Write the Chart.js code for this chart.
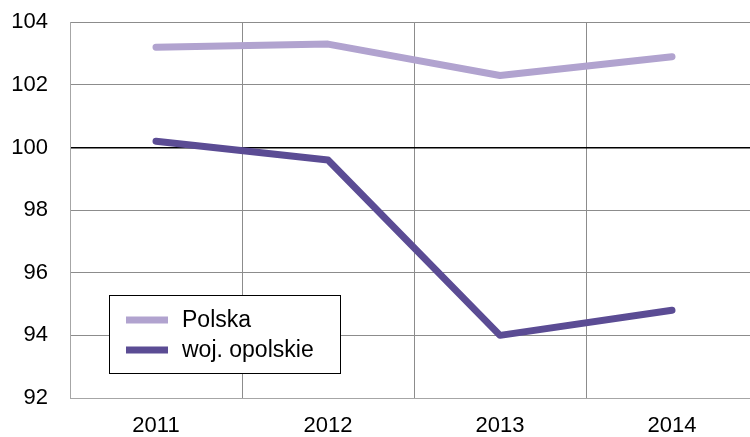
<!DOCTYPE html>
<html>
<head>
<meta charset="utf-8">
<script src="https://cdn.jsdelivr.net/npm/chart.js@4/dist/chart.umd.min.js"></script>
<style>
  html, body { margin: 0; padding: 0; background: #fff; overflow: hidden; }
  #wrap { width: 760px; height: 450px; margin-top: -13px; }
</style>
</head>
<body>
<div id="wrap"><canvas id="myChart" width="760" height="450"></canvas></div>
<script>
// data
const years = ['2011', '2012', '2013', '2014'];
const polska = [103.2, 103.3, 102.3, 102.9];
const opolskie = [100.2, 99.6, 94.0, 94.8];
const yTicks = [92, 94, 96, 98, 100, 102, 104];

const FONT = "'Liberation Sans', Arial, sans-serif";

// legend box drawn inside the plot, bottom left (page offset 13px up)
const boxLegend = {
    id: 'boxLegend',
    afterDraw(chart) {
        const c = chart.ctx;
        const x = 109, y = 295 + 13, w = 231, h = 78;
        c.save();
        c.fillStyle = '#fff';
        c.fillRect(x, y, w, h);
        c.strokeStyle = '#000';
        c.lineWidth = 1;
        c.strokeRect(x + 0.5, y + 0.5, w, h);
        c.font = '23px ' + FONT;
        c.textBaseline = 'middle';
        chart.data.datasets.forEach((ds, i) => {
            const ly = y + 25 + i * 30;
            c.strokeStyle = ds.borderColor;
            c.lineWidth = 7;
            c.beginPath();
            c.moveTo(126, ly);
            c.lineTo(168, ly);
            c.stroke();
            c.fillStyle = '#000';
            c.fillText(ds.label, 182, ly + 1);
        });
        c.restore();
    }
};

const ctx = document.getElementById('myChart').getContext('2d');

const myChart = new Chart(ctx, {
    type: 'line',
    data: {
        labels: years,
        datasets: [{
            label: 'Polska',
            data: polska,
            borderColor: '#b1a3cf',
            backgroundColor: '#b1a3cf',
            borderWidth: 7,
            pointRadius: 0,
            tension: 0,
            borderCapStyle: 'round',
            borderJoinStyle: 'round'
        }, {
            label: 'woj. opolskie',
            data: opolskie,
            borderColor: '#5b4c94',
            backgroundColor: '#5b4c94',
            borderWidth: 7,
            pointRadius: 0,
            tension: 0,
            borderCapStyle: 'round',
            borderJoinStyle: 'round'
        }]
    },
    options: {
        responsive: false,
        animation: false,
        layout: { padding: { top: 10, right: 2 } },
        plugins: {
            legend: { display: false },
            tooltip: { enabled: false }
        },
        scales: {
            x: {
                offset: true,
                grid: { offset: true, color: '#8c8c8c', drawTicks: false },
                border: { color: '#a6a6a6' },
                ticks: { color: '#000', font: { family: FONT, size: 22 }, padding: 15 },
                afterFit(s) { s.height = 39; }
            },
            y: {
                min: 92,
                max: 104,
                afterBuildTicks(s) { s.ticks = yTicks.map(v => ({ value: v })); },
                grid: {
                    drawTicks: false,
                    color: c => c.tick && c.tick.value === 100 ? '#000' : '#8c8c8c',
                    lineWidth: c => c.tick && c.tick.value === 100 ? 1.5 : 1
                },
                border: { color: '#a6a6a6' },
                ticks: { color: '#000', font: { family: FONT, size: 22 }, padding: 22 },
                afterFit(s) { s.width = 70; }
            }
        }
    },
    plugins: [boxLegend]
});
</script>
</body>
</html>
